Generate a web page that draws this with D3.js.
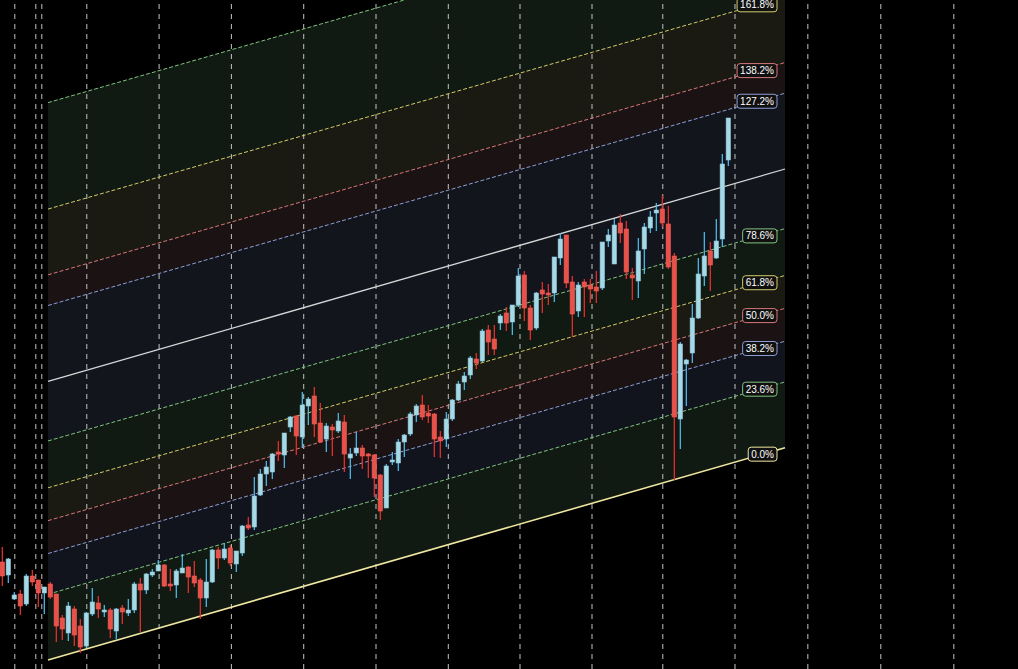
<!DOCTYPE html>
<html>
<head>
  <meta charset="utf-8">
  <script src="https://d3js.org/d3.v7.min.js"></script>
  <style>
    html, body { margin: 0; padding: 0; background: #000; overflow: hidden; }
    svg { display: block; }
    .grid line { stroke: #c4c4c4; stroke-dasharray: 5,5; stroke-width: 1px; }
    .grid path { display: none; }
    .lvl-label text { font-family: "Liberation Sans", Arial, sans-serif; font-size: 10px; fill: #fff; }
  </style>
</head>
<body>
<div id="chart"></div>
<script>
var width = 1018, height = 669;

// daily bars (price units are arbitrary, no axis is shown)
var opens  = [138,125,101,106, 96,124,120,107,116,106, 82, 67, 91, 74, 54, 86, 97, 88, 90, 69,
               92, 87, 90,116,110,125,129,135,116,115,127,133,124,120,102,118,150,142,152,136,
              147,175,173,205,226,228,248,245,273,284,263,294,304,277,261,273,269,278,242,247,
              252,246,245,225,192,238,237,258,266,285,295,287,286,263,261,281,300,318,325,341,
              339,370,361,377,387,378,395,425,392,372,410,407,407,442,465,418,389,418,415,413,
              412,459,436,477,471,425,419,451,472,487,491,476,444,281,336,347,382,424,449,442,
              461,540];
var highs  = [153,142,108,110,126,130,120,113,118,106, 85, 98, 94, 81, 88,112,104, 95, 92, 92,
               95,101,118,122,127,131,140,136,131,131,146,134,139,122,141,151,153,157,155,149,
              175,183,223,231,239,247,259,267,284,285,308,303,313,297,277,276,287,285,252,268,
              255,247,246,226,236,248,261,266,288,296,305,295,287,269,288,301,319,328,344,347,
              371,375,375,386,393,395,432,429,395,408,418,416,443,467,465,424,418,421,421,429,
              458,471,481,486,479,432,462,477,489,497,505,494,447,358,341,396,442,468,458,481,
              546,582];
var lows   = [114,117,100, 85, 94,114, 93, 86,101, 58, 60, 59, 54, 47, 52, 84, 82, 83, 62, 61,
               76, 84, 87, 68,106,123,129,113,109,102,127,107,113, 81, 93,117,131,140,134,128,
              144,170,170,204,214,221,239,232,268,245,252,275,263,257,248,244,267,228,221,244,
              231,222,203,180,192,235,229,243,264,278,280,277,243,242,253,279,299,310,321,331,
              338,345,345,370,369,365,393,379,360,370,387,395,398,435,412,363,383,383,397,397,
              410,453,436,457,421,400,402,426,467,469,473,431,220,251,294,337,381,414,409,441,
              453,534];
var closes = [124,141,105, 94,124,118,107,113,103, 74, 71, 94, 65, 53, 87, 98, 91, 90, 71, 91,
               88, 90,116,110,126,128,135,114,114,129,132,123,117,102,118,150,142,151,137,149,
              174,172,204,226,233,246,246,267,283,264,295,301,276,258,274,270,279,246,246,252,
              244,244,222,189,234,240,258,265,286,294,283,284,261,259,281,300,316,324,342,337,
              369,358,351,384,377,395,424,392,370,407,406,405,443,461,417,386,415,413,411,409,
              458,465,475,467,428,422,449,473,483,490,477,433,283,356,340,382,426,444,435,459,
              536,582];

// vertical dashed grid lines, in bar units
var gridBars = [2, 5.5, 6.5, 14, 26.05, 38.1, 50.15, 62.2, 74.25, 86.2, 98.2, 110, 122.03, 134.17, 146.33, 158.5];

// fib channel: base line from start to end, height of the 100% level
var chanStart = [7.62, 40];
var chanEnd = [130.45, 252.3];
var chanHeight = 278.7;
var levels = [0, 0.236, 0.382, 0.5, 0.618, 0.786, 1, 1.272, 1.382, 1.618, 2];
var levelLabels = ["0.0%", "23.6%", "38.2%", "50.0%", "61.8%", "78.6%", "100.0%", "127.2%", "138.2%", "161.8%", "200.0%"];
var levelColors = ["#efe6a2", "#7fc47f", "#8b9fd6", "#d7787b", "#d3cb6c", "#7fc47f", "#d8d8d8", "#8b9fd6", "#d7787b", "#d3cb6c", "#7fc47f"];
var bandColors = [null, "#111a12", "#11141c", "#1b1313", "#1a1912", "#111a12", "#12151c", "#12151c", "#1b1313", "#1a1912", "#111a12"];

var upBody = "#a6d9e6", upWick = "#4fc3f7", downBody = "#e8524b", downWick = "#f42f2f";

var svg = d3.select('#chart').append('svg')
  .attr('width', width)
  .attr('height', height)
  .style('background', '#000');

var x = d3.scaleLinear().domain([-0.383, 169.28]).range([0, width]);
var y = d3.scaleLinear().domain([31, 700]).range([height, 0]);

function levelPrice(l, bar) {
  var base = chanStart[1] + (chanEnd[1] - chanStart[1]) * (bar - chanStart[0]) / (chanEnd[0] - chanStart[0]);
  return base + chanHeight * l;
}

// bands between levels
var bands = svg.append('g');
for (var k = 1; k < levels.length; k++) {
  var a = levels[k - 1], b = levels[k];
  var pts = [
    [x(chanStart[0]), y(levelPrice(a, chanStart[0]))],
    [x(chanEnd[0]), y(levelPrice(a, chanEnd[0]))],
    [x(chanEnd[0]), y(levelPrice(b, chanEnd[0]))],
    [x(chanStart[0]), y(levelPrice(b, chanStart[0]))]
  ];
  bands.append('polygon')
    .attr('points', pts.map(function(p){ return p.join(','); }).join(' '))
    .attr('fill', bandColors[k]);
}

// grid
svg.append('g')
  .attr('class', 'grid')
  .attr('transform', 'translate(0,' + height + ')')
  .call(d3.axisBottom(x).tickValues(gridBars).tickSize(-height).tickFormat(''));

// level lines
svg.append('g').selectAll('line')
  .data(levels)
  .enter().append('line')
  .attr('x1', x(chanStart[0]))
  .attr('x2', x(chanEnd[0]))
  .attr('y1', function(d){ return y(levelPrice(d, chanStart[0])); })
  .attr('y2', function(d){ return y(levelPrice(d, chanEnd[0])); })
  .attr('stroke', function(d, i){ return levelColors[i]; })
  .attr('stroke-width', function(d){ return d === 0 ? 1.6 : (d === 1 ? 1.3 : 1); })
  .attr('stroke-dasharray', function(d){ return (d === 0 || d === 1) ? null : '4,2'; });

// candles
var bars = opens.map(function(o, i){
  return {i: i, o: o, h: highs[i], l: lows[i], c: closes[i]};
});

var candle = svg.append('g').selectAll('g')
  .data(bars)
  .enter().append('g');

candle.append('line')
  .attr('x1', function(d){ return x(d.i); })
  .attr('x2', function(d){ return x(d.i); })
  .attr('y1', function(d){ return y(d.h); })
  .attr('y2', function(d){ return y(d.l); })
  .attr('stroke', function(d){ return d.c >= d.o ? upWick : downWick; })
  .attr('stroke-width', 1.2);

candle.append('rect')
  .attr('x', function(d){ return x(d.i) - 2.2; })
  .attr('width', 4.4)
  .attr('y', function(d){ return y(Math.max(d.o, d.c)); })
  .attr('height', function(d){ return Math.max(1.5, Math.abs(y(d.o) - y(d.c))); })
  .attr('fill', function(d){ return d.c >= d.o ? upBody : downBody; })
  .attr('stroke', function(d){ return d.c >= d.o ? '#8ec5da' : '#f25a52'; })
  .attr('stroke-width', 0.6);

// level labels on the right
var labelRight = 777;
var lab = svg.append('g').selectAll('g')
  .data(levels)
  .enter().append('g')
  .attr('class', 'lvl-label');

lab.each(function(d, i){
  var g = d3.select(this);
  var t = g.append('text').text(levelLabels[i]).attr('text-anchor', 'end');
  var w = t.node().getComputedTextLength() + 6;
  var cx = labelRight - w / 2;
  var bar = x.invert(cx);
  var cy = y(levelPrice(d, bar));
  g.insert('rect', 'text')
    .attr('x', labelRight - w)
    .attr('y', cy - 7)
    .attr('width', w)
    .attr('height', 14)
    .attr('rx', 3)
    .attr('fill', '#101010')
    .attr('stroke', levelColors[i])
    .attr('stroke-width', 1);
  t.attr('x', labelRight - 3).attr('y', cy + 3.6);
  if (d === 1) g.remove();
});
</script>
</body>
</html>
